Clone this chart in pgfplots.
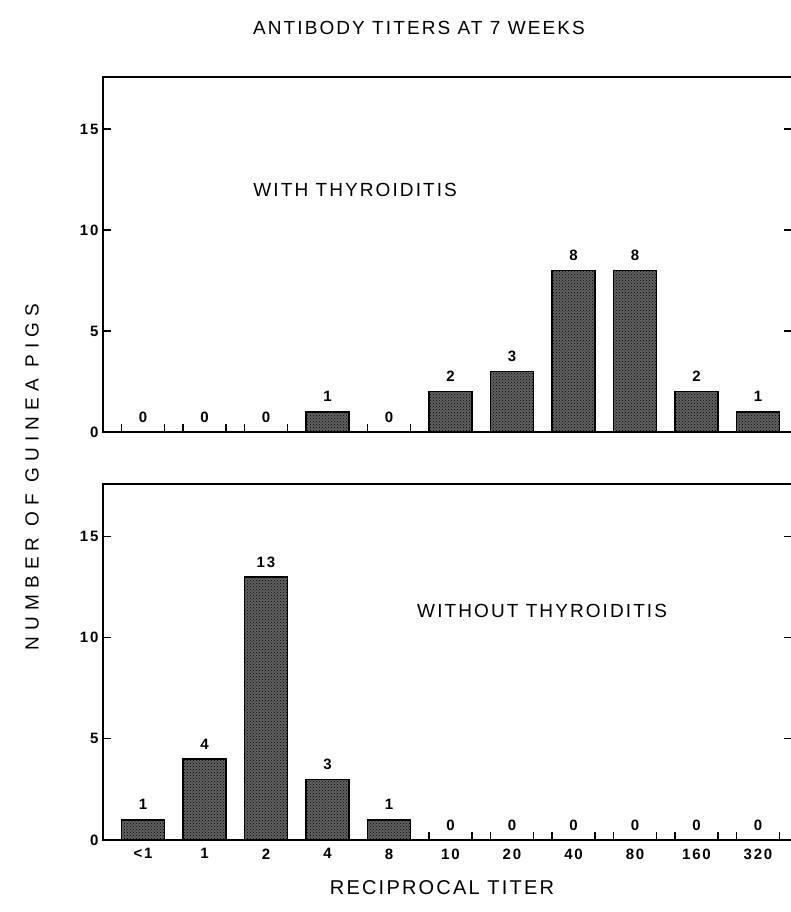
\documentclass[border=0pt]{standalone}
\usepackage{fontspec}
\setmainfont{Liberation Sans}
\newfontfamily\lab[LetterSpace=11]{Liberation Sans}
\newfontfamily\ylab[LetterSpace=32]{Liberation Sans}
\newfontfamily\num[LetterSpace=12]{Liberation Sans}
\usepackage{pgfplots}
\pgfplotsset{compat=1.18}
\usetikzlibrary{patterns}

\pgfplotstableread{
x y
0 0
1 0
2 0
3 1
4 0
5 2
6 3
7 8
8 8
9 2
10 1
}\withthy

\pgfplotstableread{
x y
0 1
1 4
2 13
3 3
4 1
5 0
6 0
7 0
8 0
9 0
10 0
}\withoutthy

\pgfplotsset{
  panel/.style={
    scale only axis, width=689pt, anchor=south west,
    xmin=-0.65, xmax=10.553, ymin=0,
    axis line style={line width=2.4pt},
    ytick={0,5,10,15},
    yticklabel style={font=\num\bfseries\fontsize{15}{17}\selectfont, xshift=-1pt},
    xticklabel style={font=\num\bfseries\fontsize{15}{17}\selectfont, yshift=-5pt},
    /pgf/number format/assume math mode=true,
    tick style={black, line width=1.2pt},
    major tick length=8pt, minor tick length=8pt, tick align=inside,
    xtick={0,...,10}, xtick pos=lower,
    major x tick style={draw=none},
    clip=false,
  },
  bars/.style={
    ybar, bar width=43pt, bar shift=0pt, draw=black, line width=1.6pt,
    fill=black!62, postaction={pattern=crosshatch dots, pattern color=black},
    nodes near coords,
    every node near coord/.append style={font=\num\bfseries\fontsize{15}{17}\selectfont, inner sep=0pt, yshift=9pt, anchor=south, black},
  },
}

\begin{document}
\begin{tikzpicture}
\begin{axis}[panel, at={(103pt,-432pt)}, height=355pt, ymax=17.57,
  xticklabels={},
  minor xtick={-0.35,0.35,0.65,1.35,1.65,2.35,3.65,4.35}]
\addplot[bars] table[x=x,y=y] {\withthy};
\node[font=\lab\fontsize{19}{21}\selectfont] at (axis cs:3.45,12.0) {WITH THYROIDITIS};
\end{axis}
\begin{axis}[panel, at={(103pt,-840pt)}, height=356pt, ymax=17.6,
  xticklabels={\textless 1,1,2,4,8,10,20,40,80,160,320},
  minor xtick={4.65,5.35,5.65,6.35,6.65,7.35,7.65,8.35,8.65,9.35,9.65,10.35}]
\addplot[bars] table[x=x,y=y] {\withoutthy};
\node[font=\lab\fontsize{19}{21}\selectfont] at (axis cs:6.49,11.3) {WITHOUT THYROIDITIS};
\end{axis}
\node[font=\lab\fontsize{19}{21}\selectfont] at (419pt,-28pt) {ANTIBODY TITERS AT 7 WEEKS};
\node[font=\ylab\fontsize{19}{21}\selectfont, rotate=90] at (32pt,-477pt) {NUMBER OF GUINEA PIGS};
\node[font=\lab\fontsize{20}{22}\selectfont] at (442pt,-888pt) {RECIPROCAL TITER};
\pgfresetboundingbox
\useasboundingbox (0,0) rectangle (790pt,-912pt);
\end{tikzpicture}
\end{document}
